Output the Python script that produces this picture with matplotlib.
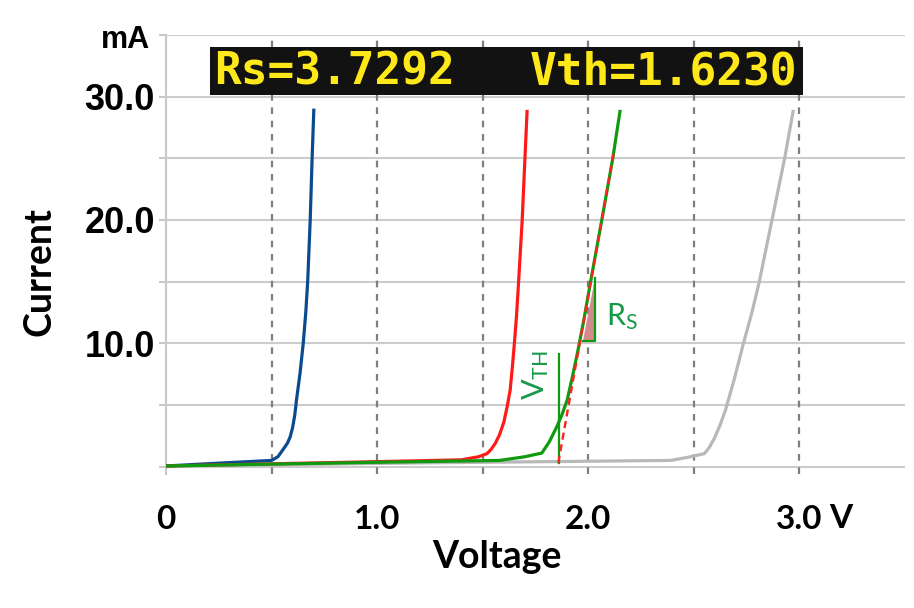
import numpy as np
import matplotlib
matplotlib.use("Agg")
import matplotlib.pyplot as plt
from matplotlib.patches import Rectangle, Polygon

plt.rcParams['mathtext.default'] = 'regular'

# I-V curves (V, mA)
blue_v = [0.0, 0.25, 0.5, 0.53, 0.555, 0.575, 0.588, 0.6, 0.61, 0.618, 0.635, 0.65,
          0.662, 0.671, 0.683, 0.692, 0.70]
blue_i = [0.05, 0.28, 0.5, 0.8, 1.4, 1.9, 2.4, 3.2, 4.2, 5.4, 7.6, 10.0,
          12.5, 15.0, 20.0, 25.0, 28.9]

red_v = [0.0, 1.0, 1.4, 1.48, 1.52, 1.54, 1.56, 1.58, 1.60, 1.615, 1.63, 1.64,
         1.65, 1.66, 1.67, 1.687, 1.70, 1.71]
red_i = [0.05, 0.4, 0.55, 0.8, 1.05, 1.4, 1.9, 2.6, 3.6, 4.8, 6.2, 8.0,
         10.0, 12.2, 15.0, 20.0, 25.0, 28.8]

green_v = [0.0, 1.0, 1.58, 1.7, 1.78, 1.815, 1.85, 1.875, 1.90, 1.925, 1.952,
           1.98, 2.011, 2.064, 2.09, 2.116, 2.15]
green_i = [0.05, 0.35, 0.5, 0.8, 1.1, 2.0, 3.2, 4.2, 5.4, 7.3, 9.5,
           12.0, 15.0, 20.0, 22.5, 25.0, 28.8]

gray_v = [0.0, 1.2, 2.39, 2.47, 2.55, 2.575, 2.60, 2.625, 2.65, 2.67, 2.69,
          2.735, 2.775, 2.81, 2.87, 2.93, 2.97]
gray_i = [0.05, 0.3, 0.5, 0.75, 1.05, 1.6, 2.4, 3.4, 4.6, 5.8, 7.0,
          10.0, 12.5, 15.0, 20.0, 25.0, 28.8]

# tangent (Rs fit) and threshold marker
tangent_v = [1.858, 2.12]
tangent_i = [0.3, 25.4]
vth_v = 1.862
vth_i = [0.3, 9.1]
tri_v = [1.976, 2.033, 2.033]
tri_i = [10.2, 10.2, 15.3]

xtick_vals = [0, 1, 2, 3]
xtick_labels = ['0', '1.0', '2.0', '3.0']
ytick_vals = [0, 5, 10, 15, 20, 25, 30, 35]
ytick_labels = ['', '', '10.0', '', '20.0', '', '30.0', '']
rs_text = 'Rs=3.7292'
vth_text = 'Vth=1.6230'

fig = plt.figure(figsize=(9.14, 6.08), dpi=100)
ax = fig.add_axes([166/914, 1-474/608, 739/914, 439/608])

ax.set_xlim(0, 3.5)
ax.set_ylim(-0.6, 35)

for s in ['top', 'right', 'bottom']:
    ax.spines[s].set_visible(False)
ax.spines['left'].set_color('#c8c8c8')
ax.spines['left'].set_linewidth(1.5)

# horizontal grid
for y in ytick_vals:
    ax.axhline(y, color='#cccccc', lw=1.5, zorder=1)
# vertical dashed lines
for x in np.arange(0.5, 3.01, 0.5):
    ax.axvline(x, color='#7f7f7f', lw=1.6, ls=(0, (3, 3)), zorder=1)

ax.plot(gray_v, gray_i, color='#b8b8b8', lw=2.3, zorder=3)
ax.plot(blue_v, blue_i, color='#0a4a8e', lw=2.3, zorder=4)
ax.plot(red_v, red_i, color='#ff1a1a', lw=2.3, zorder=4)
ax.plot(green_v, green_i, color='#109a10', lw=2.3, zorder=5)

ax.add_patch(Polygon(list(zip(tri_v, tri_i)), closed=True, facecolor='#d48a8a',
                     edgecolor='none', zorder=4))
ax.plot([tri_v[0], tri_v[1], tri_v[2]], [tri_i[0], tri_i[1], tri_i[2]],
        color='#109a10', lw=1.6, zorder=5)
ax.plot(tangent_v, tangent_i, color='#ff2020', lw=1.7, ls=(0, (3, 2)), zorder=6)
ax.plot([vth_v, vth_v], vth_i, color='#109a10', lw=1.6, zorder=5)

ax.text(1.749, 7.45, r'V$_{TH}$', rotation=90, ha='center', va='center',
        color='#17994a', fontsize=22, family='Lato')
ax.text(2.161, 12.15, r'R$_S$', ha='center', va='center',
        color='#17994a', fontsize=22, family='Lato')

ax.set_yticks(ytick_vals)
ax.set_yticklabels(ytick_labels, fontsize=26, fontweight='bold', family='Liberation Sans')
ax.tick_params(axis='y', length=5, width=1.5, color='#c8c8c8', pad=3)
ax.set_xticks(xtick_vals)
ax.set_xticklabels(xtick_labels, fontsize=24, fontweight='bold', family='Lato')
ax.tick_params(axis='x', length=0, pad=22)

fig.text(841/914, 1-528/608, 'V', fontsize=24, fontweight='bold', family='Lato',
         ha='center', va='baseline')
fig.text(497/914, 1-557/608, 'Voltage', fontsize=27, fontweight='bold', family='Lato',
         ha='center', va='center')
fig.text(40/914, 1-272/608, 'Current', fontsize=27, fontweight='bold', family='Lato',
         ha='center', va='center', rotation=90)
fig.text(150/914, 1-40/608, 'mA', fontsize=22, fontweight='bold', family='Liberation Sans',
         ha='right', va='center')

# display readout
fig.patches.append(Rectangle((210/914, 1-95/608), 593/914, 48/608, transform=fig.transFigure,
                             facecolor='#121212', edgecolor='none', zorder=5))
fig.text(214/914, 1-72/608, rs_text, fontsize=32, fontweight='bold', family='DejaVu Sans Mono',
         color='#ffe81a', ha='left', va='center', zorder=6)
fig.text(530/914, 1-72/608, vth_text, fontsize=32, fontweight='bold', family='DejaVu Sans Mono',
         color='#ffe81a', ha='left', va='center', zorder=6)

fig.savefig('out.png', dpi=100)
